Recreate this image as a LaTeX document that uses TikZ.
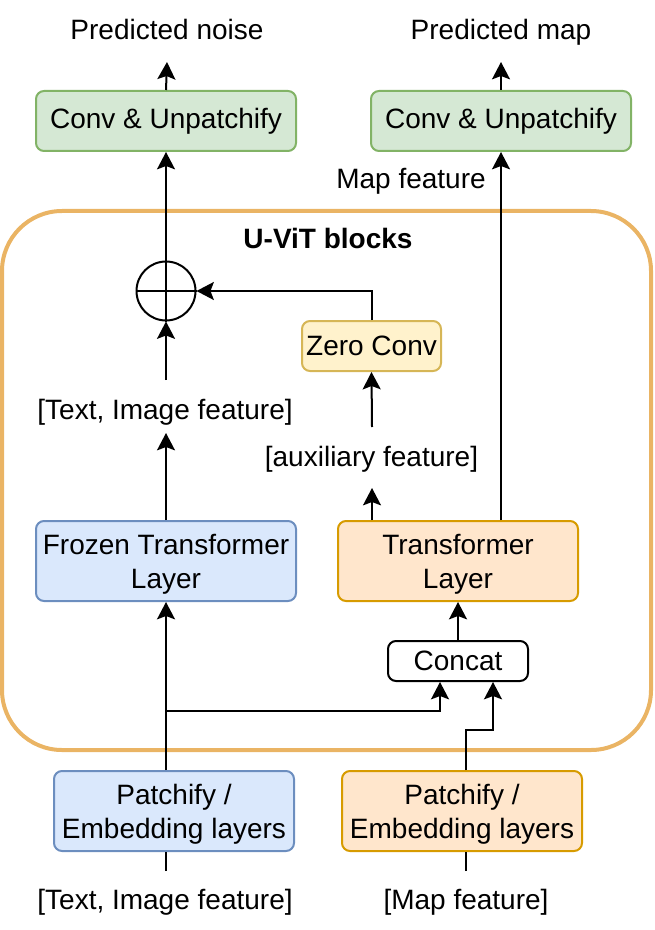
\documentclass[tikz,border=0pt]{standalone}
\usepackage{fontspec}
\setmainfont{Liberation Sans}
\usetikzlibrary{arrows.meta,calc}
\definecolor{gfill}{HTML}{D5E8D4}
\definecolor{gdraw}{HTML}{82B366}
\definecolor{bfill}{HTML}{DAE8FC}
\definecolor{bdraw}{HTML}{6C8EBF}
\definecolor{ofill}{HTML}{FFE6CC}
\definecolor{odraw}{HTML}{D79B00}
\definecolor{yfill}{HTML}{FFF2CC}
\definecolor{ydraw}{HTML}{D6B656}
\definecolor{cont}{HTML}{EAB464}
\newcommand\myup{\rule{0pt}{19.6pt}}
\begin{document}
\begin{tikzpicture}[x=0.75pt,y=-0.75pt,
  font=\fontsize{21}{25.5}\selectfont,
  box/.style={draw, line width=1.5pt, rounded corners=6pt, inner sep=0pt, align=center},
  arr/.style={line width=1.5pt, -{Stealth[length=13pt,width=13.5pt,inset=2.5pt]}},
  ln/.style={line width=1.5pt},
  lbl/.style={inner sep=0pt, anchor=base}]
\useasboundingbox (0,0) rectangle (654,930);
% container
\node[draw=cont, line width=3pt, rounded corners=45pt, minimum width=486.75pt, minimum height=404.25pt, inner sep=0pt] (blk) at (326.5,480.5) {};
\node[lbl, font=\fontsize{21}{25.5}\selectfont\bfseries] (title) at (328,249) {U-ViT blocks};
% boxes
\node[box, fill=gfill, draw=gdraw, minimum width=195pt, minimum height=45pt] (cu1) at (166,121) {Conv \& Unpatchify};
\node[box, fill=gfill, draw=gdraw, minimum width=195pt, minimum height=45pt] (cu2) at (501,121) {Conv \& Unpatchify};
\node[lbl] (pn) at (167,40) {Predicted noise};
\node[lbl] (pm) at (501,40) {Predicted map};
\node[lbl] (mf) at (411,189) {Map feature};
\node[draw, circle, line width=1.5pt, minimum size=44.25pt, inner sep=0pt] (sum) at (166,291) {};
\node[box, fill=yfill, draw=ydraw, minimum width=104.25pt, minimum height=37.5pt] (zc) at (371.5,346) {Zero Conv};
\node[lbl] (tif) at (165,419) {[Text, Image feature]};
\node[lbl] (aux) at (371.5,466) {[auxiliary feature]};
\node[box, fill=bfill, draw=bdraw, minimum width=195pt, minimum height=60pt] (fz) at (166,561) {\myup Frozen Transformer\\Layer};
\node[box, fill=ofill, draw=odraw, minimum width=180pt, minimum height=60pt] (tl) at (458,561) {\myup Transformer\\Layer};
\node[box, draw=black, fill=white, minimum width=105pt, minimum height=30pt] (cc) at (458,661) {Concat};
\node[box, fill=bfill, draw=bdraw, minimum width=180pt, minimum height=60pt] (pe1) at (174,811) {\myup Patchify /\\Embedding layers};
\node[box, fill=ofill, draw=odraw, minimum width=180pt, minimum height=60pt] (pe2) at (462,811) {\myup Patchify /\\Embedding layers};
\node[lbl] (in1) at (165,909) {[Text, Image feature]};
\node[lbl] (in2) at (466,909) {[Map feature]};
% free ends
\coordinate (pnEnd) at (167,62);
\coordinate (pmEnd) at (501,62);
\coordinate (tifTop) at (166,380);
\coordinate (tifBot) at (166,433);
\coordinate (auxTop) at (372,427);
\coordinate (auxBot) at (372,488);
\coordinate (in1Top) at (166,871);
\coordinate (in2Top) at (466,871);
\coordinate (split) at (166,711);
% connectors
\draw[arr] (cu1.north) -- (pnEnd);
\draw[arr] (cu2.north) -- (pmEnd);
\draw[arr] (sum.north) -- (cu1.south);
\draw[ln] (sum.west) -- (sum.east);
\draw[ln] (sum.north) -- (sum.south);
\draw[arr] (tifTop) -- (sum.south);
\draw[arr] (zc.north) |- (sum.east);
\draw[arr] (auxTop) -- (zc.south);
\draw[arr] (fz.north) -- (tifBot);
\draw[arr] (tl.north -| auxBot) -- (auxBot);
\draw[arr] (tl.north -| cu2.south) -- (cu2.south);
\draw[arr] (cc.north) -- (tl.south);
\draw[arr] (pe1.north -| fz.south) -- (fz.south);
\draw[arr] (split) -| ($(cc.south)+(-18,0)$);
\draw[arr] (pe2.north -| in2Top) -- ++(0,-40) -| ($(cc.south)+(35,0)$);
\draw[ln] (in1Top) -- (in1Top |- pe1.south);
\draw[ln] (in2Top) -- (in2Top |- pe2.south);
\end{tikzpicture}
\end{document}
